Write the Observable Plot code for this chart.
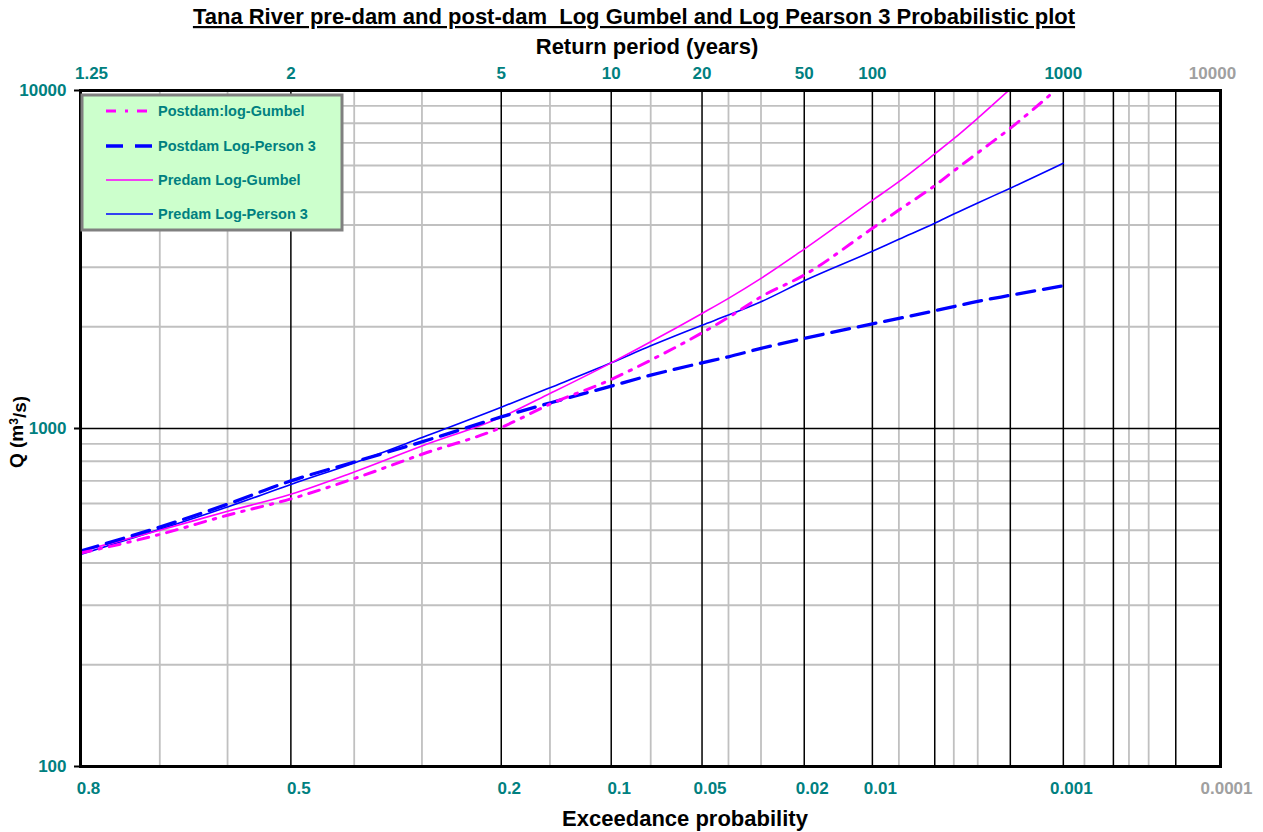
<!DOCTYPE html>
<html>
<head>
<meta charset="utf-8">
<script src="https://cdn.jsdelivr.net/npm/d3@7"></script>
<script src="https://cdn.jsdelivr.net/npm/@observablehq/plot@0.6"></script>
<style>
  html, body { margin: 0; padding: 0; background: white; }
  #chart svg { display: block; }
</style>
</head>
<body>
<div id="chart"></div>
<script>
// ---------- data ----------
const exceedance = [0.8, 0.7, 0.6, 0.5, 0.4, 0.3, 0.2, 0.15, 0.1, 0.075, 0.05, 0.04, 0.03, 0.02, 0.01, 0.0075, 0.005, 0.004, 0.003, 0.002, 0.001];
const postdamLogGumbel   = [428, 486, 554, 619, 711, 839, 1007, 1180, 1397, 1593, 1919, 2132, 2453, 2844, 3911, 4430, 5230, 5780, 6540, 7734, 10500];
const postdamLogPearson3 = [434, 511, 597, 700, 796, 913, 1082, 1190, 1335, 1438, 1564, 1630, 1726, 1847, 2040, 2117, 2230, 2295, 2378, 2478, 2644];
const predamLogGumbel    = [433, 500, 569, 639, 744, 888, 1080, 1269, 1564, 1805, 2190, 2427, 2781, 3396, 4730, 5373, 6493, 7200, 8279, 10100, 13800];
const predamLogPearson3  = [424, 503, 586, 683, 791, 940, 1156, 1320, 1564, 1757, 2022, 2165, 2371, 2736, 3345, 3630, 4047, 4310, 4650, 5140, 6091];

const probTicks      = [0.8, 0.5, 0.2, 0.1, 0.05, 0.02, 0.01, 0.001];
const probTicksGray  = [0.0001];
const returnLabels   = ["1.25", "2", "5", "10", "20", "50", "100", "1000"];
const returnLabelsGray = ["10000"];
const majorGridProb  = [0.5, 0.2, 0.1, 0.05, 0.02, 0.01, 0.005, 0.002, 0.001, 0.0005, 0.0002];
const minorGridProb  = [0.7, 0.6, 0.4, 0.3, 0.15, 0.075, 0.04, 0.03, 0.0075, 0.004, 0.003, 0.00075, 0.0004, 0.0003];
const qTicks         = [100, 1000, 10000];
const qMajorGrid     = [1000];
const qMinorGrid     = [200, 300, 400, 500, 600, 700, 800, 900, 2000, 3000, 4000, 5000, 6000, 7000, 8000, 9000];

const seriesNames = ["Postdam:log-Gumbel", "Postdam Log-Person 3", "Predam Log-Gumbel", "Predam Log-Person 3"];

// ---------- normal probability transform (probit) ----------
function probit(p) {
  const a = [-3.969683028665376e+01, 2.209460984245205e+02, -2.759285104469687e+02, 1.383577518672690e+02, -3.066479806614716e+01, 2.506628277459239e+00];
  const b = [-5.447609879822406e+01, 1.615858368580409e+02, -1.556989798598866e+02, 6.680131188771972e+01, -1.328068155288572e+01];
  const c = [-7.784894002430293e-03, -3.223964580411365e-01, -2.400758277161838e+00, -2.549732539343734e+00, 4.374664141464968e+00, 2.938163982698783e+00];
  const d = [7.784695709041462e-03, 3.224671290700398e-01, 2.445134137142996e+00, 3.754408661907416e+00];
  const pl = 0.02425, ph = 1 - pl;
  if (p < pl) {
    const q = Math.sqrt(-2 * Math.log(p));
    return (((((c[0]*q+c[1])*q+c[2])*q+c[3])*q+c[4])*q+c[5]) / ((((d[0]*q+d[1])*q+d[2])*q+d[3])*q+1);
  }
  if (p <= ph) {
    const q = p - 0.5, r = q * q;
    return (((((a[0]*r+a[1])*r+a[2])*r+a[3])*r+a[4])*r+a[5])*q / (((((b[0]*r+b[1])*r+b[2])*r+b[3])*r+b[4])*r+1);
  }
  const q = Math.sqrt(-2 * Math.log(1 - p));
  return -(((((c[0]*q+c[1])*q+c[2])*q+c[3])*q+c[4])*q+c[5]) / ((((d[0]*q+d[1])*q+d[2])*q+d[3])*q+1);
}
// standard normal variate of non-exceedance for an exceedance probability
const zOf = e => -probit(e);

const FONT = "'Liberation Sans', Arial, Helvetica, sans-serif";
const TEAL = "#008080";
const GRAY = "#a0a0a0";
const MAGENTA = "#ff00ff";
const BLUE = "#0000ff";
const labelStyle = { fontSize: 17, fontWeight: "bold", lineAnchor: "middle" };

const chart = Plot.plot({
  width: 1263,
  height: 832,
  marginTop: 90,
  marginBottom: 66,
  marginLeft: 80,
  marginRight: 43,
  style: { fontFamily: FONT, background: "white", overflow: "visible" },
  x: { type: "linear", domain: [zOf(0.8), zOf(0.0001)], axis: null },
  y: { type: "log", domain: [100, 10000], axis: null },
  marks: [
    // grid
    Plot.ruleX(minorGridProb, { x: zOf, stroke: "#c0c0c0", strokeWidth: 1.8 }),
    Plot.ruleY(qMinorGrid, { stroke: "#c0c0c0", strokeWidth: 1.8 }),
    Plot.ruleX(majorGridProb, { x: zOf, stroke: "#000", strokeWidth: 1.5 }),
    Plot.ruleY(qMajorGrid, { stroke: "#000", strokeWidth: 1.5 }),
    // curves
    Plot.line(exceedance, { x: zOf, y: (d, i) => predamLogPearson3[i], stroke: BLUE, strokeWidth: 1.6, curve: "monotone-x", clip: true }),
    Plot.line(exceedance, { x: zOf, y: (d, i) => predamLogGumbel[i], stroke: MAGENTA, strokeWidth: 1.6, curve: "monotone-x", clip: true }),
    Plot.line(exceedance, { x: zOf, y: (d, i) => postdamLogPearson3[i], stroke: BLUE, strokeWidth: 3.3, strokeDasharray: "18,9", curve: "monotone-x", clip: true }),
    Plot.line(exceedance, { x: zOf, y: (d, i) => postdamLogGumbel[i], stroke: MAGENTA, strokeWidth: 3, strokeDasharray: "11,8,2.5,8", curve: "monotone-x", clip: true }),
    // frame
    Plot.frame({ stroke: "#000", strokeWidth: 3 }),
    // y axis ticks
    Plot.axisY(qTicks, { tickSize: 6, strokeWidth: 2, tickFormat: () => "" }),
    // y tick labels
    Plot.text(qTicks, { y: d => d, text: d => String(d), frameAnchor: "left", textAnchor: "end", dx: -14, fill: TEAL, ...labelStyle }),
    // bottom labels: exceedance probability
    Plot.text(probTicks, { x: zOf, text: d => String(d), frameAnchor: "bottom", dy: 22, dx: 8, fill: TEAL, ...labelStyle }),
    Plot.text(probTicksGray, { x: zOf, text: d => String(d), frameAnchor: "bottom", dy: 22, dx: 6, fill: GRAY, ...labelStyle }),
    // top labels: return period
    Plot.text(probTicks.slice(0, 1), { x: zOf, text: (d, i) => returnLabels[i], frameAnchor: "top", dy: -17, dx: 11, fill: TEAL, ...labelStyle }),
    Plot.text(probTicks.slice(1), { x: zOf, text: (d, i) => returnLabels[i + 1], frameAnchor: "top", dy: -17, fill: TEAL, ...labelStyle }),
    Plot.text(probTicksGray, { x: zOf, text: (d, i) => returnLabelsGray[i], frameAnchor: "top", dy: -17, dx: -8, fill: GRAY, ...labelStyle })
  ]
});

const svg = d3.select(chart);

// titles
svg.append("text")
  .attr("x", 634).attr("y", 24)
  .attr("text-anchor", "middle")
  .style("font", `bold 22px ${FONT}`)
  .style("text-decoration", "underline")
  .style("white-space", "pre")
  .attr("fill", "#000")
  .text("Tana River pre-dam and post-dam  Log Gumbel and Log Pearson 3 Probabilistic plot");

svg.append("text")
  .attr("x", 647).attr("y", 54)
  .attr("text-anchor", "middle")
  .style("font", `bold 22px ${FONT}`)
  .attr("fill", "#000")
  .text("Return period (years)");

svg.append("text")
  .attr("x", 685).attr("y", 826)
  .attr("text-anchor", "middle")
  .style("font", `bold 22px ${FONT}`)
  .attr("fill", "#000")
  .text("Exceedance probability");

const ylab = svg.append("text")
  .attr("transform", "translate(23,432) rotate(-90)")
  .attr("text-anchor", "middle")
  .style("font", `bold 19px ${FONT}`)
  .attr("fill", "#000");
ylab.append("tspan").text("Q (m");
ylab.append("tspan").attr("dy", "-0.45em").style("font-size", "12px").text("3");
ylab.append("tspan").attr("dy", "0.45em").text("/s)");

// legend
const lg = svg.append("g");
lg.append("rect")
  .attr("x", 82).attr("y", 95).attr("width", 260).attr("height", 135)
  .attr("fill", "#ccffcc").attr("stroke", "#808080").attr("stroke-width", 3);
const legendStyles = [
  { stroke: MAGENTA, width: 3, dash: "10,9,3,9" },
  { stroke: BLUE, width: 3.3, dash: "17,12" },
  { stroke: MAGENTA, width: 1.6, dash: null },
  { stroke: BLUE, width: 1.6, dash: null }
];
const rowY = [111, 146, 180, 214];
seriesNames.forEach((name, i) => {
  const s = legendStyles[i];
  const ln = lg.append("line")
    .attr("x1", 106).attr("x2", 153).attr("y1", rowY[i]).attr("y2", rowY[i])
    .attr("stroke", s.stroke).attr("stroke-width", s.width);
  if (s.dash) ln.attr("stroke-dasharray", s.dash);
  lg.append("text")
    .attr("x", 158).attr("y", rowY[i])
    .attr("dy", "0.35em")
    .attr("text-anchor", "start")
    .style("font", `bold 14.5px ${FONT}`)
    .attr("fill", TEAL)
    .text(name);
});

document.getElementById("chart").appendChild(chart);
</script>
</body>
</html>
